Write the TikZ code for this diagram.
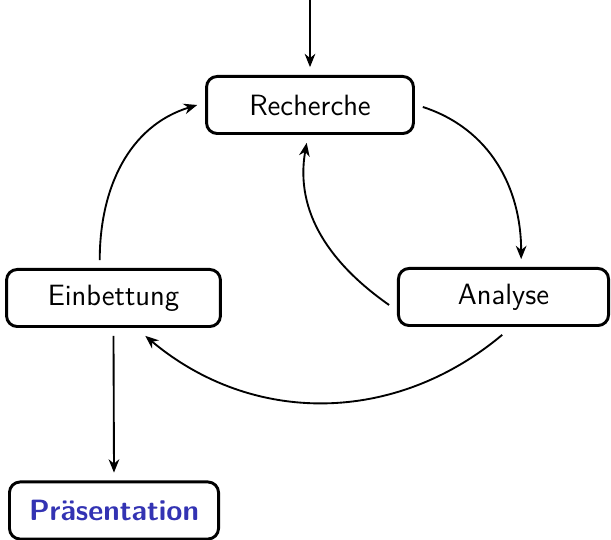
\documentclass[tikz,border=0pt]{standalone}
\usetikzlibrary{arrows.meta}
\definecolor{structblue}{RGB}{51,51,179}

\begin{document}
\begin{tikzpicture}[x=0.375pt, y=-0.375pt, font=\sffamily\fontsize{11}{13}\selectfont,
    phase/.style={rectangle, rounded corners=4pt, draw, line width=1.1pt, minimum width=80pt, minimum height=21.4pt, outer sep=3.5pt},
    arrow/.style={-{Stealth[length=5pt, width=4pt, inset=1.6pt]}, line width=0.7pt}]
    \useasboundingbox (0,0) rectangle (611,540);

    \coordinate (start) at (310,0);
    \node[phase, minimum width=77.6pt] (recherche) at (310,105) {Recherche};
    \node[phase, minimum width=80.2pt] (einbettung) at (113.5,298) {Einbettung};
    \node[phase, minimum width=78.8pt] (analyse) at (503.5,297) {Analyse};
    \node[phase, minimum width=78.4pt, text=structblue, font=\sffamily\bfseries\fontsize{11}{13}\selectfont] (praesentation) at (114,510.5) {Präsentation};

    \draw[arrow] (start) -- (recherche.north);
    \draw[arrow] (recherche.-1) to[out=-18, in=90] (analyse.65);
    \draw[arrow] (analyse.184) to[out=145, in=-100] (recherche.265);
    \draw[arrow] (analyse.-92) to[out=-140, in=-40] (einbettung.-50);
    \draw[arrow] (einbettung.110) to[out=90, in=197] (recherche.west);
    \draw[arrow] (einbettung.south) -- (praesentation.north);
\end{tikzpicture}
\end{document}
